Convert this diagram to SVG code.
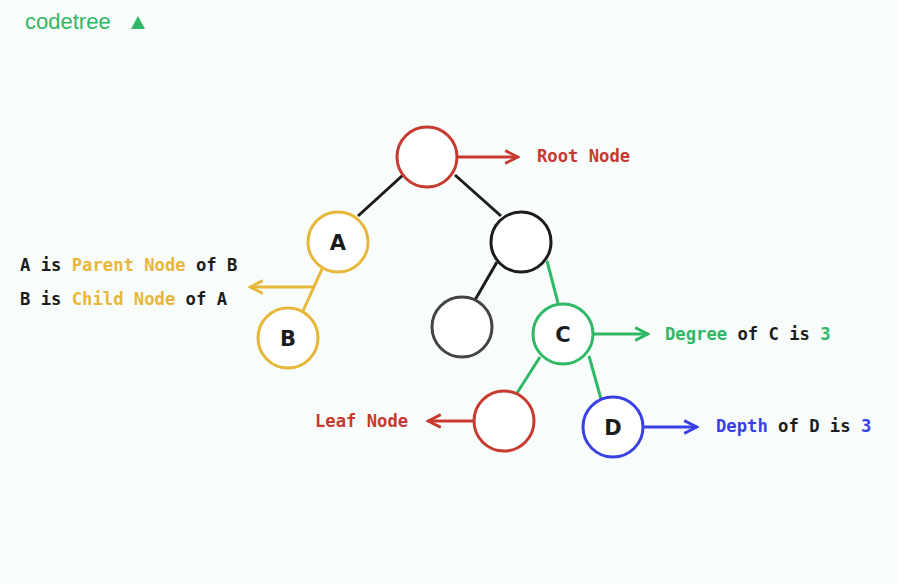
<svg xmlns="http://www.w3.org/2000/svg" width="898" height="584" viewBox="0 0 898 584">
<defs>
<style>
.n{fill:#fff;stroke-width:3}
.e{stroke-width:3;fill:none}
.t{font-family:"DejaVu Sans Mono","Liberation Mono",monospace;font-weight:bold;font-size:17.2px}
.l{font-family:"DejaVu Sans","Noto Sans",sans-serif;font-weight:bold;font-size:21px;text-anchor:middle}
.r{stroke:#c63a2f}.y{stroke:#e8b73a}.g{stroke:#2fb865}.b{stroke:#3940e6}.k{stroke:#1c1c1c}
</style>
<marker id="ar" viewBox="0 0 10 10" refX="9" refY="5" markerWidth="16" markerHeight="16" markerUnits="userSpaceOnUse" orient="auto"><path d="M1,1 L9,5 L1,9" fill="none" stroke="context-stroke" stroke-width="1.8"/></marker>
</defs>
<rect width="898" height="584" fill="#f8fcfa"/>
<text x="25" y="29" font-family="'Liberation Sans',sans-serif" font-size="22" fill="#2fb865">codetree</text>
<polygon points="131,29 138,16 145,29" fill="#2fb865"/>
<g id="connectors">
<line class="e k" x1="403" y1="175" x2="358" y2="216"/>
<line class="e k" x1="455" y1="175" x2="501" y2="216"/>
<line class="e k" x1="497" y1="262" x2="475" y2="300"/>
<line class="e g" x1="547" y1="261" x2="558" y2="303"/>
<line class="e y" x1="322" y1="269" x2="303" y2="311"/>
<line class="e y" x1="313" y1="287" x2="250" y2="287" marker-end="url(#ar)"/>
<line class="e g" x1="540" y1="357" x2="517" y2="393"/>
<line class="e g" x1="589" y1="356" x2="601" y2="399"/>
<line class="e r" x1="458" y1="157" x2="518" y2="157" marker-end="url(#ar)"/>
<line class="e g" x1="594" y1="334" x2="648" y2="334" marker-end="url(#ar)"/>
<line class="e r" x1="474" y1="421" x2="428" y2="421" marker-end="url(#ar)"/>
<line class="e b" x1="643" y1="427" x2="697" y2="427" marker-end="url(#ar)"/>
</g>
<g id="root"><circle class="n r" cx="427" cy="157" r="30"/></g>
<g id="A"><circle class="n y" cx="338" cy="242" r="30"/><text class="l" x="338" y="250" fill="#1c1c1c">A</text></g>
<g id="R"><circle class="n k" cx="521" cy="242" r="30"/></g>
<g id="B"><circle class="n y" cx="288" cy="338" r="30"/><text class="l" x="288" y="346" fill="#1c1c1c">B</text></g>
<g id="G"><circle class="n" stroke="#444" cx="462" cy="327" r="30"/></g>
<g id="C"><circle class="n g" cx="563" cy="334" r="30"/><text class="l" x="563" y="342" fill="#1c1c1c">C</text></g>
<g id="L"><circle class="n r" cx="504" cy="421" r="30"/></g>
<g id="D"><circle class="n b" cx="613" cy="427" r="30"/><text class="l" x="613" y="435" fill="#1c1c1c">D</text></g>
<g class="t">
<text x="537" y="162" fill="#c63a2f">Root Node</text>
<text x="20" y="271" fill="#1c1c1c">A is <tspan fill="#e8b73a">Parent Node</tspan> of B</text>
<text x="20" y="305" fill="#1c1c1c">B is <tspan fill="#e8b73a">Child Node</tspan> of A</text>
<text x="665" y="340" fill="#2fb865">Degree <tspan fill="#1c1c1c">of C is</tspan> 3</text>
<text x="315" y="427" fill="#c63a2f">Leaf Node</text>
<text x="716" y="432" fill="#3940e6">Depth <tspan fill="#1c1c1c">of D is</tspan> 3</text>
</g>
</svg>
